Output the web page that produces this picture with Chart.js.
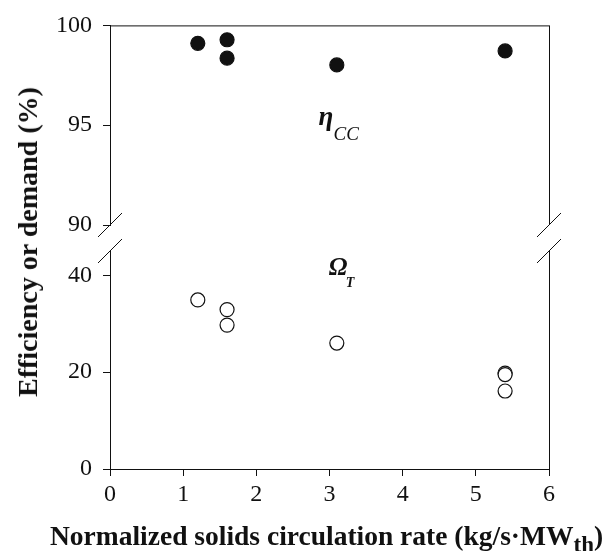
<!DOCTYPE html>
<html>
<head>
<meta charset="utf-8">
<script src="https://cdn.jsdelivr.net/npm/chart.js@4"></script>
<style>
  body { margin: 0; background: #fff; }
  #wrap { position: relative; width: 609px; height: 551px; font-family: 'Liberation Serif', serif; color: #111; }
  #wrap canvas { position: absolute; left: 0; top: 0; }
  .ytitle {
    position: absolute; left: 28px; top: 242px; white-space: nowrap;
    transform: translate(-50%, -50%) rotate(-90deg);
    font-weight: bold; font-size: 28px;
  }
  .xtitle {
    position: absolute; left: 50px; top: 521px; white-space: nowrap;
    font-weight: bold; font-size: 27.5px; line-height: 30px;
  }
  .xtitle sub { font-size: 23px; vertical-align: -7px; line-height: 0; }
</style>
</head>
<body>
<div id="wrap">
  <canvas id="topChart" width="609" height="551"></canvas>
  <canvas id="botChart" width="609" height="551"></canvas>
  <div class="ytitle">Efficiency or demand (%)</div>
  <div class="xtitle">Normalized solids circulation rate (kg/s·MW<sub>th</sub>)</div>
</div>
<script>
// carbon capture efficiency (upper panel)
const rateEta = [1.2, 1.6, 1.6, 3.1, 5.4];
const etaCC = [99.1, 99.28, 98.36, 98.02, 98.72];

// thermal demand (lower panel)
const rateOmega = [1.2, 1.6, 1.6, 3.1, 5.4, 5.4, 5.4];
const omegaT = [34.9, 32.9, 29.7, 26.0, 19.8, 19.5, 16.1];

const xTicks = [0, 1, 2, 3, 4, 5, 6];
const topTicks = [90, 95, 100];
const botTicks = [0, 20, 40];

const FONT = "'Liberation Serif', serif";
const INK = '#111';

function pts(xs, ys) {
  return xs.map((x, i) => ({ x: x, y: ys[i] }));
}

function fixTicks(list) {
  return function (scale) {
    scale.ticks = list.map(v => ({ value: v }));
  };
}

// frame lines, axis break marks and the series symbols
const decor = {
  id: 'decor',
  afterDraw(chart, args, opts) {
    const ctx = chart.ctx;
    const a = chart.chartArea;
    ctx.save();
    ctx.strokeStyle = INK;
    ctx.lineWidth = 1;
    ctx.beginPath();
    if (opts.part === 'top') {
      ctx.moveTo(a.left, a.top + 0.5);
      ctx.lineTo(a.right, a.top + 0.5);
    }
    ctx.moveTo(a.right + 0.5, a.top);
    ctx.lineTo(a.right + 0.5, a.bottom);
    const by = opts.part === 'top' ? a.bottom : a.top;
    [a.left, a.right].forEach(bx => {
      ctx.moveTo(bx - 12, by + 12);
      ctx.lineTo(bx + 12, by - 12);
    });
    ctx.stroke();

    const lb = opts.label;
    const px = chart.scales.x.getPixelForValue(lb.x);
    const py = chart.scales.y.getPixelForValue(lb.y);
    ctx.fillStyle = INK;
    ctx.textBaseline = 'alphabetic';
    ctx.textAlign = 'left';
    ctx.font = lb.mainFont + FONT;
    ctx.fillText(lb.main, px, py);
    ctx.font = lb.subFont + FONT;
    ctx.fillText(lb.sub, px + lb.dx, py + lb.dy);
    ctx.restore();
  }
};

function makeChart(id, data, fill, yMin, yMax, yList, part, pad, label) {
  const showX = part === 'bottom';
  return new Chart(document.getElementById(id), {
    type: 'scatter',
    data: {
      datasets: [{
        data: data,
        pointRadius: 7,
        pointBorderWidth: 1.2,
        pointBorderColor: INK,
        pointBackgroundColor: fill,
        pointHoverRadius: 7
      }]
    },
    options: {
      responsive: false,
      animation: false,
      events: [],
      layout: { padding: pad },
      plugins: {
        legend: { display: false },
        tooltip: { enabled: false },
        decor: { part: part, label: label }
      },
      scales: {
        x: {
          type: 'linear',
          display: showX,
          min: 0,
          max: 6,
          afterBuildTicks: fixTicks(xTicks),
          afterFit: s => { if (showX) s.height = 82; },
          border: { display: true, color: INK, width: 1 },
          grid: { drawOnChartArea: false, drawTicks: true, tickLength: 7, color: INK },
          ticks: { color: INK, padding: 4, font: { family: FONT, size: 24 } }
        },
        y: {
          type: 'linear',
          min: yMin,
          max: yMax,
          afterBuildTicks: fixTicks(yList),
          afterFit: s => { s.width = 110; },
          border: { display: true, color: INK, width: 1 },
          grid: { drawOnChartArea: false, drawTicks: true, tickLength: 7, color: INK },
          ticks: { color: INK, padding: 11, font: { family: FONT, size: 24 } }
        }
      }
    },
    plugins: [decor]
  });
}

makeChart('topChart', pts(rateEta, etaCC), INK, 90, 100, topTicks, 'top',
  { left: 0, top: 17, right: 60, bottom: 326 },
  { x: 2.85, y: 95.0, main: 'η', mainFont: 'italic bold 27px ',
    sub: 'CC', subFont: 'italic 19px ', dx: 15, dy: 15 });

makeChart('botChart', pts(rateOmega, omegaT), '#fff', 0, 45, botTicks, 'bottom',
  { left: 0, top: 251, right: 60, bottom: 0 },
  { x: 2.99, y: 40.0, main: 'Ω', mainFont: 'italic bold 25px ',
    sub: 'T', subFont: 'italic bold 14px ', dx: 17, dy: 12 });
</script>
</body>
</html>
